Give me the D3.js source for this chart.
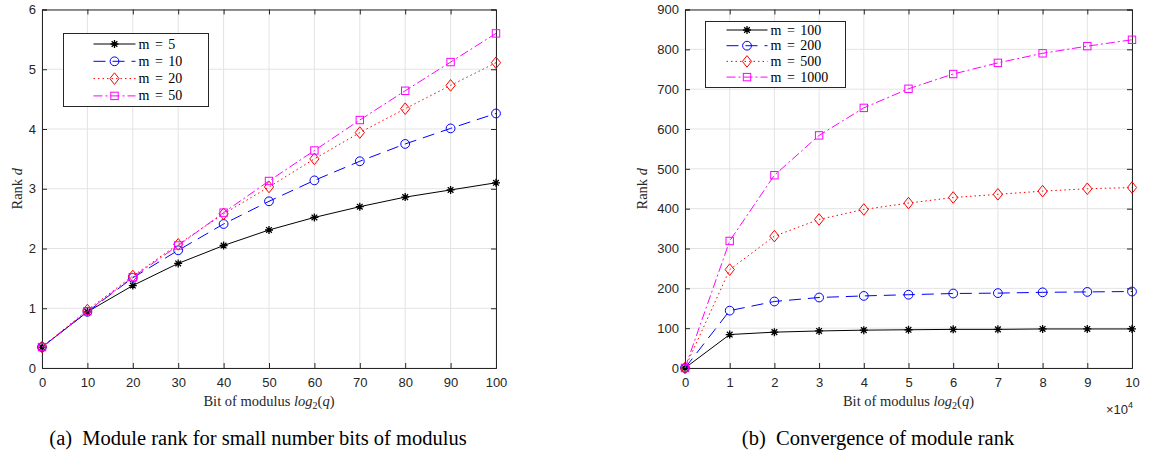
<!DOCTYPE html>
<html>
<head>
<meta charset="utf-8">
<script src="https://cdn.jsdelivr.net/npm/d3@7"></script>
<style>
  body { margin: 0; background: #fff; }
  svg { display: block; }
  .tick text { font-family: "Liberation Sans", Arial, sans-serif; font-size: 13px; fill: #262626; }
  .lbl { font-family: "Liberation Serif", "Times New Roman", serif; font-size: 14.5px; fill: #262626; }
  .cap { font-family: "Liberation Serif", "Times New Roman", serif; font-size: 20.5px; fill: #000; }
  .leg { font-family: "Liberation Serif", "Times New Roman", serif; font-size: 14px; fill: #000; word-spacing: 2px; }
</style>
</head>
<body>
<svg id="chart" width="1151" height="455"></svg>
<script>
// left panel: small bit counts
const bitsA = [0, 10, 20, 30, 40, 50, 60, 70, 80, 90, 100];
const m5 = [0.35, 0.94, 1.38, 1.75, 2.05, 2.31, 2.52, 2.70, 2.86, 2.98, 3.10];
const m10 = [0.35, 0.94, 1.51, 1.97, 2.41, 2.79, 3.14, 3.46, 3.75, 4.01, 4.26];
const m20 = [0.35, 0.97, 1.54, 2.07, 2.58, 3.03, 3.50, 3.94, 4.34, 4.73, 5.11];
const m50 = [0.35, 0.95, 1.52, 2.05, 2.60, 3.13, 3.64, 4.15, 4.64, 5.12, 5.60];

// right panel: large bit counts (x10^4)
const bitsB = [0, 1, 2, 3, 4, 5, 6, 7, 8, 9, 10];
const m100 = [0, 84, 90, 93, 95, 96, 97, 97, 98, 98, 98];
const m200 = [0, 144, 167, 177, 181, 184, 187, 188, 190, 191, 192];
const m500 = [0, 247, 331, 373, 398, 414, 428, 436, 444, 450, 453];
const m1000 = [0, 319, 484, 584, 653, 701, 738, 766, 790, 808, 824];

const styles = [
  { color: "#000000", dash: null, marker: "star" },
  { color: "#0000ff", dash: "12,7", marker: "circle" },
  { color: "#ff0000", dash: "1.5,3", marker: "diamond" },
  { color: "#ff00ff", dash: "9,3,2,3", marker: "square" }
];

const svg = d3.select("#chart");

function drawMarker(g, type, x, y, color) {
  if (type === "star") {
    const p = d3.path();
    const r = 4;
    for (let k = 0; k < 4; k++) {
      const a = k * Math.PI / 4;
      p.moveTo(x - r * Math.cos(a), y - r * Math.sin(a));
      p.lineTo(x + r * Math.cos(a), y + r * Math.sin(a));
    }
    g.append("path").attr("d", p.toString()).attr("stroke", color).attr("stroke-width", 1.3).attr("fill", "none");
  } else if (type === "circle") {
    g.append("circle").attr("cx", x).attr("cy", y).attr("r", 4.4)
      .attr("stroke", color).attr("fill", "none").attr("stroke-width", 1);
  } else if (type === "diamond") {
    const r = 5.8;
    g.append("path").attr("d", `M${x},${y - r}L${x + r * 0.8},${y}L${x},${y + r}L${x - r * 0.8},${y}Z`)
      .attr("stroke", color).attr("fill", "none").attr("stroke-width", 1);
  } else {
    const r = 3.7;
    g.append("rect").attr("x", x - r).attr("y", y - r).attr("width", 2 * r).attr("height", 2 * r)
      .attr("stroke", color).attr("fill", "none").attr("stroke-width", 1);
  }
}

function panel(opt) {
  const x = d3.scaleLinear().domain(opt.xDomain).range([opt.left, opt.right]);
  const y = d3.scaleLinear().domain(opt.yDomain).range([opt.bottom, opt.top]);
  const g = svg.append("g");

  // grid
  g.append("g").selectAll("line").data(opt.xTicks).enter().append("line")
    .attr("x1", d => x(d)).attr("x2", d => x(d)).attr("y1", opt.top).attr("y2", opt.bottom)
    .attr("stroke", "#e3e3e3").attr("stroke-width", 1);
  g.append("g").selectAll("line").data(opt.yTicks).enter().append("line")
    .attr("y1", d => y(d)).attr("y2", d => y(d)).attr("x1", opt.left).attr("x2", opt.right)
    .attr("stroke", "#e3e3e3").attr("stroke-width", 1);

  // axes (ticks inward, box)
  const tk = 5;
  g.append("g").attr("transform", `translate(0,${opt.bottom})`)
    .call(d3.axisBottom(x).tickValues(opt.xTicks).tickSize(-tk).tickPadding(10).tickFormat(d3.format("d")));
  g.append("g").attr("transform", `translate(0,${opt.top})`)
    .call(d3.axisTop(x).tickValues(opt.xTicks).tickSize(-tk).tickFormat(""));
  g.append("g").attr("transform", `translate(${opt.left},0)`)
    .call(d3.axisLeft(y).tickValues(opt.yTicks).tickSize(-tk).tickPadding(6).tickFormat(d3.format("d")));
  g.append("g").attr("transform", `translate(${opt.right},0)`)
    .call(d3.axisRight(y).tickValues(opt.yTicks).tickSize(-tk).tickFormat(""));
  g.selectAll(".domain").attr("stroke", "#262626");
  g.selectAll(".tick line").attr("stroke", "#262626");

  // series
  opt.series.forEach((vals, i) => {
    const st = styles[i];
    const pts = opt.xs.map((v, j) => [x(v), y(vals[j])]);
    g.append("path").attr("d", d3.line()(pts)).attr("fill", "none")
      .attr("stroke", st.color).attr("stroke-width", 1).attr("stroke-dasharray", st.dash);
    pts.forEach(p => drawMarker(g, st.marker, p[0], p[1], st.color));
  });

  // legend
  const L = opt.legend;
  g.append("rect").attr("x", L.x).attr("y", L.y).attr("width", L.w).attr("height", L.h)
    .attr("fill", "#fff").attr("stroke", "#262626").attr("stroke-width", 1);
  opt.names.forEach((n, i) => {
    const st = styles[i];
    const yy = L.y + L.first + i * L.step;
    g.append("line").attr("x1", L.x + L.l0).attr("x2", L.x + L.l1).attr("y1", yy).attr("y2", yy)
      .attr("stroke", st.color).attr("stroke-dasharray", st.dash);
    drawMarker(g, st.marker, L.x + (L.l0 + L.l1) / 2, yy, st.color);
    g.append("text").attr("class", "leg").attr("x", L.x + L.l1 + 3).attr("y", yy + 4.5).text(n);
  });

  // labels
  const xl = g.append("text").attr("class", "lbl").attr("x", (opt.left + opt.right) / 2).attr("y", opt.bottom + 38)
    .attr("text-anchor", "middle");
  xl.append("tspan").text("Bit of modulus ");
  xl.append("tspan").attr("font-style", "italic").text("log");
  xl.append("tspan").attr("font-size", "10px").attr("dy", 3).text("2");
  xl.append("tspan").attr("dy", -3).text("(");
  xl.append("tspan").attr("font-style", "italic").text("q");
  xl.append("tspan").text(")");

  const yl = g.append("text").attr("class", "lbl")
    .attr("transform", `translate(${opt.left - 20 - opt.yLabelOff},${(opt.top + opt.bottom) / 2}) rotate(-90)`)
    .attr("text-anchor", "middle");
  yl.append("tspan").text("Rank ");
  yl.append("tspan").attr("font-style", "italic").text("d");

  svg.append("text").attr("class", "cap").attr("x", opt.capX).attr("y", 445).attr("text-anchor", "middle")
    .attr("xml:space", "preserve").text(opt.caption);
  return x;
}

panel({
  left: 42, right: 496, top: 9.5, bottom: 368,
  xDomain: [0, 100], yDomain: [0, 6],
  xTicks: bitsA, yTicks: [0, 1, 2, 3, 4, 5, 6],
  xs: bitsA, series: [m5, m10, m20, m50],
  names: ["m = 5", "m = 10", "m = 20", "m = 50"],
  legend: { x: 63.5, y: 33.5, w: 145, h: 73, first: 10.5, step: 17.3, l0: 30, l1: 72 },
  yLabelOff: 0, capX: 258,
  caption: "(a)  Module rank for small number bits of modulus"
});

panel({
  left: 685, right: 1132, top: 9.5, bottom: 368,
  xDomain: [0, 10], yDomain: [0, 900],
  xTicks: bitsB, yTicks: d3.range(0, 901, 100),
  xs: bitsB, series: [m100, m200, m500, m1000],
  names: ["m = 100", "m = 200", "m = 500", "m = 1000"],
  legend: { x: 705.5, y: 21.5, w: 140, h: 66, first: 8.5, step: 15.7, l0: 21, l1: 62 },
  yLabelOff: 18, capX: 878,
  caption: "(b)  Convergence of module rank"
});

// x10^4 exponent label
const ex = svg.append("text").attr("x", 1106).attr("y", 414)
  .attr("font-family", "Liberation Sans, Arial, sans-serif").attr("font-size", "13px").attr("fill", "#262626");
ex.append("tspan").text("×10");
ex.append("tspan").attr("font-size", "9px").attr("dy", -6).text("4");
</script>
</body>
</html>
